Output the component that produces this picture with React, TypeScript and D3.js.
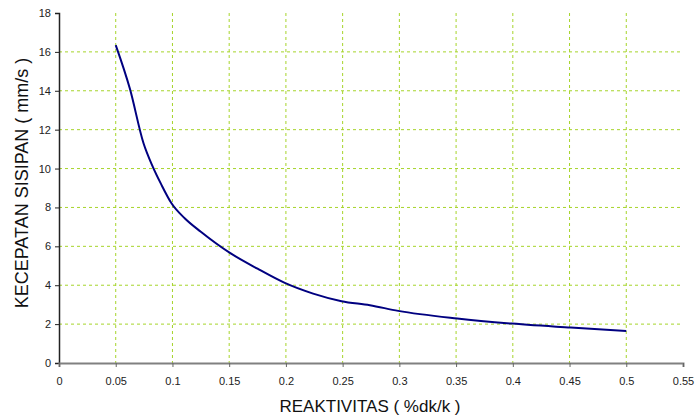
import React, { useRef, useEffect } from 'react';
import * as d3 from 'd3';

const reaktivitas = [0.05, 0.0625, 0.0745, 0.0826, 0.09, 0.0993, 0.111, 0.125, 0.151, 0.175, 0.199, 0.224, 0.249, 0.274, 0.299, 0.351, 0.399, 0.451, 0.5];
const kecepatan = [16.35, 14.1, 11.3, 10.1, 9.2, 8.2, 7.43, 6.75, 5.65, 4.85, 4.12, 3.57, 3.18, 2.97, 2.68, 2.29, 2.03, 1.82, 1.65];
const xTicks = [0, 0.05, 0.1, 0.15, 0.2, 0.25, 0.3, 0.35, 0.4, 0.45, 0.5, 0.55];
const yTicks = [0, 2, 4, 6, 8, 10, 12, 14, 16, 18];

const App = () => {
  const svgRef = useRef<SVGSVGElement>(null);

  useEffect(() => {
    const svg = d3.select(svgRef.current);
    svg.selectAll('*').remove();

    const x = d3.scaleLinear().domain([0, 0.55]).range([59, 683]);
    const y = d3.scaleLinear().domain([0, 18]).range([363, 13]);
    const font = 'Liberation Sans, Arial, sans-serif';
    const grid = '#a6d42a';

    // grid
    svg
      .append('g')
      .selectAll('line')
      .data(yTicks.filter((t) => t > 0 && t < 18))
      .join('line')
      .attr('x1', x(0))
      .attr('x2', x(0.55))
      .attr('y1', (d) => y(d))
      .attr('y2', (d) => y(d))
      .attr('stroke', grid)
      .attr('stroke-dasharray', '3,3');

    svg
      .append('g')
      .selectAll('line')
      .data(xTicks.filter((t) => t > 0 && t < 0.55))
      .join('line')
      .attr('x1', (d) => x(d))
      .attr('x2', (d) => x(d))
      .attr('y1', y(18))
      .attr('y2', y(0))
      .attr('stroke', grid)
      .attr('stroke-dasharray', '3,3');

    // y axis
    const yAxis = svg
      .append('g')
      .attr('transform', `translate(${x(0)},0)`)
      .call(d3.axisLeft(y).tickValues(yTicks).tickSize(4).tickPadding(4));
    yAxis.select('.domain').attr('stroke', '#222').attr('stroke-width', 1.5);
    yAxis.selectAll('line').attr('stroke', '#222');
    yAxis.selectAll('text').attr('font-family', font).attr('font-size', 11).attr('fill', '#222');

    // x axis
    const xAxis = svg
      .append('g')
      .attr('transform', `translate(0,${y(0)})`)
      .call(
        d3
          .axisBottom(x)
          .tickValues(xTicks)
          .tickSize(4)
          .tickPadding(10)
          .tickFormat((d) => String(d))
      );
    xAxis.select('.domain').attr('stroke', '#808080').attr('stroke-width', 2);
    xAxis.selectAll('line').attr('stroke', '#666');
    xAxis.selectAll('text').attr('font-family', font).attr('font-size', 11).attr('fill', '#222');

    // curve
    const pts = reaktivitas.map((r, i) => [r, kecepatan[i]] as [number, number]);
    svg
      .append('path')
      .datum(pts)
      .attr('fill', 'none')
      .attr('stroke', '#000080')
      .attr('stroke-width', 2)
      .attr('d', d3.line().x((d) => x(d[0])).y((d) => y(d[1])).curve(d3.curveMonotoneX));

    // titles
    svg
      .append('text')
      .attr('x', 370)
      .attr('y', 412)
      .attr('text-anchor', 'middle')
      .attr('font-family', font)
      .attr('font-size', 17)
      .attr('fill', '#111')
      .text('REAKTIVITAS ( %dk/k )');

    svg
      .append('text')
      .attr('transform', `translate(28,183) rotate(-90)`)
      .attr('text-anchor', 'middle')
      .attr('font-family', font)
      .attr('font-size', 18)
      .attr('fill', '#111')
      .text('KECEPATAN SISIPAN ( mm/s )');
  }, []);

  return (
    <svg
      ref={svgRef}
      width={697}
      height={418}
      style={{ position: 'absolute', left: 0, top: 0, background: '#fff' }}
    />
  );
};

export default App;
